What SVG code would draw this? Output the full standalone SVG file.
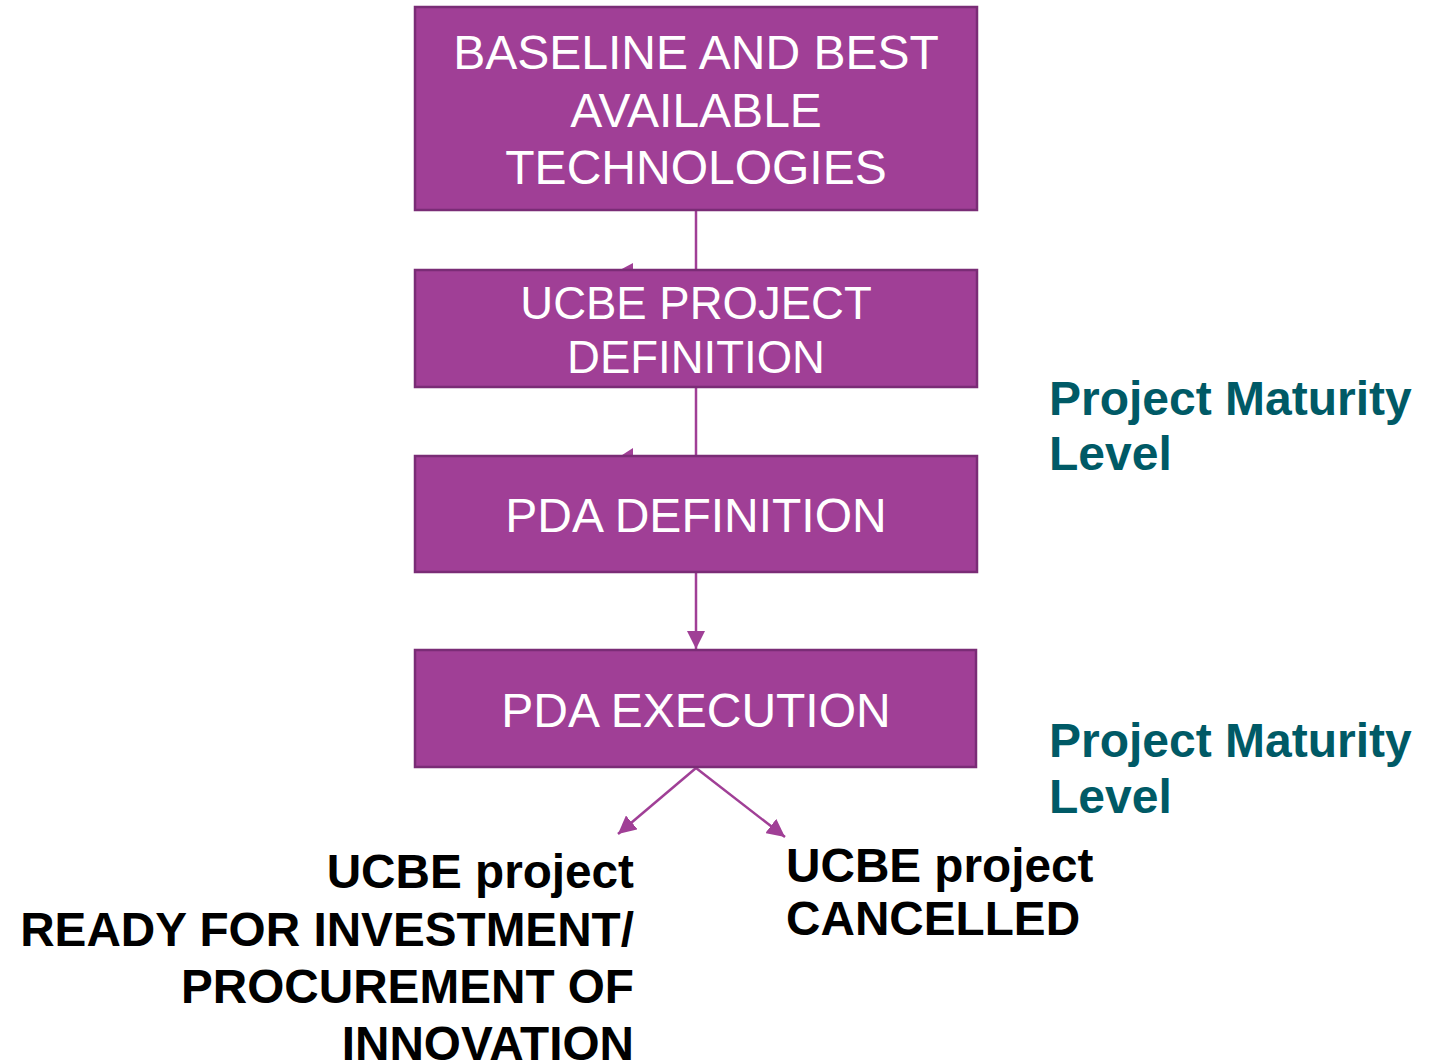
<svg xmlns="http://www.w3.org/2000/svg" width="1443" height="1063" viewBox="0 0 1443 1063">
<style>
.box{fill:#A03F96;stroke:#7A2C76;stroke-width:2.5}
.bt{font-family:"Liberation Sans",Arial,sans-serif;font-size:48px;fill:#FFFFFF;text-anchor:middle}
.bts{font-size:45.5px}
.lbl{font-family:"Liberation Sans",Arial,sans-serif;font-size:47.7px;font-weight:bold;fill:#000000}
.teal{font-family:"Liberation Sans",Arial,sans-serif;font-size:48px;font-weight:bold;fill:#005A66}
.con{stroke:#A03F96;stroke-width:2.5;fill:none}
.ah{fill:#A03F96}
</style>
<defs>
<marker id="arr" markerUnits="userSpaceOnUse" markerWidth="18" markerHeight="18" viewBox="0 0 16 16" refX="16" refY="8" orient="auto">
<path d="M0,0 L16,8 L0,16 Z" class="ah"/>
</marker>
</defs>
<rect width="1443" height="1063" fill="#FFFFFF"/>
<g id="connectors">
<line class="con" x1="696" y1="210" x2="696" y2="270"/>
<polygon class="ah" points="618,271 633,263 633,271"/>
<line class="con" x1="696" y1="387" x2="696" y2="456"/>
<polygon class="ah" points="619,457 633,448 633,457"/>
<line class="con" x1="696" y1="572" x2="696" y2="649" marker-end="url(#arr)"/>
<line class="con" x1="696" y1="768" x2="618" y2="834" marker-end="url(#arr)"/>
<line class="con" x1="696" y1="768" x2="785" y2="837" marker-end="url(#arr)"/>
</g>
<g id="node-baseline">
<rect class="box" x="415" y="7" width="562" height="203"/>
<text class="bt" x="696" y="69">BASELINE AND BEST</text>
<text class="bt" x="696" y="127">AVAILABLE</text>
<text class="bt" x="696" y="184">TECHNOLOGIES</text>
</g>
<g id="node-ucbe-def">
<rect class="box" x="415" y="270" width="562" height="117"/>
<text class="bt bts" x="696" y="319">UCBE PROJECT</text>
<text class="bt bts" x="696" y="373">DEFINITION</text>
</g>
<g id="node-pda-def">
<rect class="box" x="415" y="456" width="562" height="116"/>
<text class="bt" x="696" y="532">PDA DEFINITION</text>
</g>
<g id="node-pda-exec">
<rect class="box" x="415" y="650" width="561" height="117"/>
<text class="bt" x="696" y="727">PDA EXECUTION</text>
</g>
<g id="label-pml-1">
<text class="teal" x="1049" y="415">Project Maturity</text>
<text class="teal" x="1049" y="470">Level</text>
</g>
<g id="label-pml-2">
<text class="teal" x="1049" y="757">Project Maturity</text>
<text class="teal" x="1049" y="813">Level</text>
</g>
<g id="node-ready">
<text class="lbl" x="634" y="888" text-anchor="end">UCBE project</text>
<text class="lbl" x="634" y="946" text-anchor="end">READY FOR INVESTMENT/</text>
<text class="lbl" x="634" y="1003" text-anchor="end">PROCUREMENT OF</text>
<text class="lbl" x="634" y="1060" text-anchor="end">INNOVATION</text>
</g>
<g id="node-cancelled">
<text class="lbl" x="786" y="882">UCBE project</text>
<text class="lbl" x="786" y="935">CANCELLED</text>
</g>
</svg>
